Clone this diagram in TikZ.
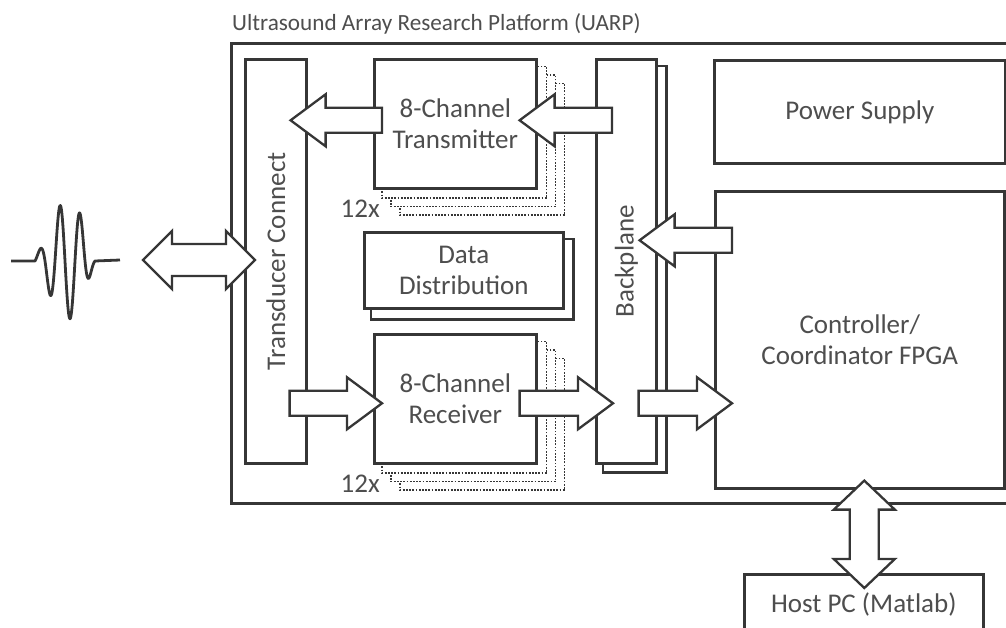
\documentclass[tikz,border=0pt]{standalone}
\usepackage{fontspec}
\setmainfont{Carlito}
\usetikzlibrary{calc,backgrounds}
\definecolor{ln}{HTML}{363636}
\definecolor{txtc}{HTML}{4E4E4E}

\tikzset{
  box/.style={draw=ln, line width=2.6pt, fill=white, inner sep=0pt, text=txtc,
    font=\fontsize{27}{31}\selectfont, align=center},
  outline/.style={draw=ln, line width=2.6pt},
  copyline/.style={draw=ln, line width=1.7pt, dash pattern=on 1.7pt off 1.5pt, fill=white},
  lbl/.style={text=txtc, font=\fontsize{27}{31}\selectfont, inner sep=0pt},
  blk/.style={draw=ln, line width=2.3pt, fill=white, line join=miter},
}

% single block arrow from tail #1 to tip #2 (horizontal)
\newcommand\harrow[2]{%
  \draw[blk] let \p1=(#1), \p2=(#2), \n1={sign(\x2-\x1)} in
    (\x1,{\y1+12.5pt}) -- ({\x2-(\n1)*35pt},{\y1+12.5pt}) -- ({\x2-(\n1)*35pt},{\y1+26pt})
    -- (\x2,\y1) -- ({\x2-(\n1)*35pt},{\y1-26pt}) -- ({\x2-(\n1)*35pt},{\y1-12.5pt})
    -- (\x1,{\y1-12.5pt}) -- cycle;}

% double block arrow, horizontal, left tip #1, right tip #2
\newcommand\hdarrow[2]{%
  \draw[blk] let \p1=(#1), \p2=(#2) in
    (\x1,\y1) -- ({\x1+29pt},{\y1+29pt}) -- ({\x1+29pt},{\y1+16pt}) -- ({\x2-29pt},{\y1+16pt})
    -- ({\x2-29pt},{\y1+29pt}) -- (\x2,\y1) -- ({\x2-29pt},{\y1-29pt}) -- ({\x2-29pt},{\y1-16pt})
    -- ({\x1+29pt},{\y1-16pt}) -- ({\x1+29pt},{\y1-29pt}) -- cycle;}

% double block arrow, vertical, top tip #1, bottom tip #2
\newcommand\vdarrow[2]{%
  \draw[blk] let \p1=(#1), \p2=(#2) in
    (\x1,\y1) -- ({\x1+30.5pt},{\y1-29pt}) -- ({\x1+14.5pt},{\y1-29pt}) -- ({\x1+14.5pt},{\y2+29pt})
    -- ({\x1+30.5pt},{\y2+29pt}) -- (\x1,\y2) -- ({\x1-30.5pt},{\y2+29pt}) -- ({\x1-14.5pt},{\y2+29pt})
    -- ({\x1-14.5pt},{\y1-29pt}) -- ({\x1-30.5pt},{\y1-29pt}) -- cycle;}

\begin{document}
\begin{tikzpicture}[x=1pt, y=-1pt]
\useasboundingbox (0,0) rectangle (1006,627);
\clip (0,0) rectangle (1006,627);

% platform enclosure and title
\node[outline, inner sep=0pt, minimum width=800, minimum height=460, anchor=north west] (uarp) at (230,42) {};
\node[lbl, font=\fontsize{23.2}{28}\selectfont, anchor=base west] (title) at (232,30) {Ultrasound Array Research Platform (UARP)};

% boards
\node[box, minimum width=61, minimum height=404, anchor=north west] (tc) at (244,58) {};
\node[lbl, rotate=90] (tcl) at (tc.center) {Transducer Connect};
\node[box, minimum width=162, minimum height=129, anchor=north west] (tx) at (373,58) {8-Channel\\Transmitter};
\node[box, minimum width=199, minimum height=76, anchor=north west] (dd) at (363,231) {Data\\Distribution};
\node[box, minimum width=162, minimum height=129, anchor=north west] (rx) at (373,333) {8-Channel\\Receiver};
\node[box, minimum width=60, minimum height=404, anchor=north west] (bp) at (595,58) {};
\node[lbl, rotate=90] (bpl) at (bp.center) {Backplane};
\node[box, minimum width=291, minimum height=103, anchor=north west] (ps) at (713,59) {Power Supply};
\node[box, minimum width=289, minimum height=297, anchor=north west] (fpga) at (714,190) {Controller/\\Coordinator FPGA};
\node[box, minimum width=239, minimum height=60, anchor=north west] (host) at (743,573) {Host PC (Matlab)};

\node[lbl, anchor=base east] (n1) at (380,217) {12x};
\node[lbl, anchor=base east] (n2) at (380,492) {12x};

% stacked copies behind the boards
\begin{scope}[on background layer]
  \foreach \k in {3,2,1} {
    \draw[copyline] ([shift={(9*\k,8.5*\k)}]tx.north west) rectangle ([shift={(9*\k,8.5*\k)}]tx.south east);
    \draw[copyline] ([shift={(9*\k,8.5*\k)}]rx.north west) rectangle ([shift={(9*\k,8.5*\k)}]rx.south east);
  }
  \draw[outline, fill=white] ([shift={(8,8)}]dd.north west) rectangle ([shift={(9,10)}]dd.south east);
  \draw[outline, fill=white] ([shift={(8,8)}]bp.north west) rectangle ([shift={(9,8)}]bp.south east);
\end{scope}

% ultrasound pulse: windowed cosine burst
\draw[outline, line width=2.8pt, line join=round]
  (11,261) -- (35,261) -- plot[domain=35:95, samples=121]
  (\x, {261 - (\x<64 ? 58*exp(-((\x-64)/19)*((\x-64)/19))
                     : 58*exp(-((\x-64)/24)*((\x-64)/24)*((\x-64)/24)*((\x-64)/24)))*cos(18*(\x-60))})
  -- (120,260);
\coordinate (wave) at (120,260);

% data paths
\coordinate (a1) at ([xshift=9pt,yshift=3.5pt]tx.west);
\harrow{a1}{$(tc.east |- a1)+(-17,0)$}
\coordinate (a2) at ($(bp.west |- a1)+(17,0)$);
\harrow{a2}{$(tx.east |- a1)+(-18,0)$}
\coordinate (a3) at ([yshift=-4.5pt]rx.west);
\harrow{$(tc.east |- a3)+(-18,0)$}{$(a3)+(9,0)$}
\harrow{$(rx.east |- a3)+(-18,0)$}{$(bp.west |- a3)+(18,0)$}
\harrow{$(bp.east |- a3)+(-19,0)$}{$(fpga.west |- a3)+(18,0)$}
\coordinate (a6) at ($(fpga.west)+(18,-99.5)$);
\harrow{a6}{$(bp.east |- a6)+(-18,0)$}
\hdarrow{$(wave)+(23,0)$}{$(tc.west |- wave)+(11,0)$}
\coordinate (a8) at ([xshift=4.5pt,yshift=9pt]fpga.south);
\vdarrow{a8}{$(host.north -| a8)+(0,15)$}
\end{tikzpicture}
\end{document}
